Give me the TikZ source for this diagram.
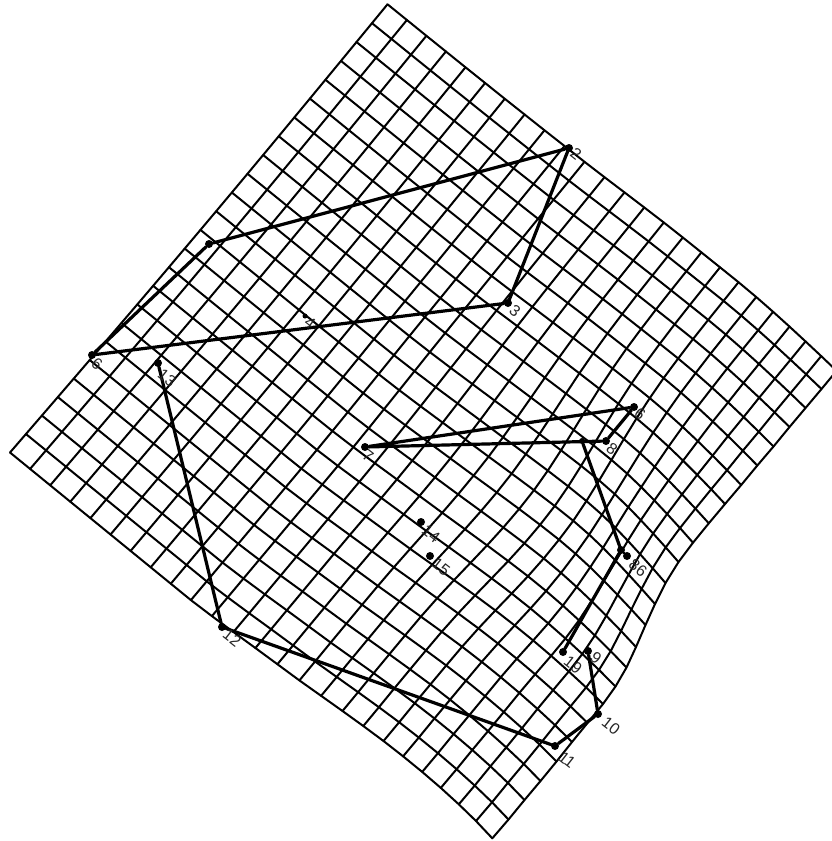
\documentclass[tikz,border=0pt]{standalone}
\usepackage{fontspec}
\setmainfont{Liberation Sans}
\def\Tx{{387.5,406.9,426.4,445.9,465.5,485.1,504.8,524.6,544.5,564.5,584.5,604.5,624.5,644.3,663.8,682.8,701.4,720,738.5,756.2,773.1,789.5,805.5,821.2,836.6}}
\def\Ty{{4.3,20,35.8,51.5,67.3,83,98.8,114.5,130.3,146,161.8,177.2,192.4,207.5,222.5,237.5,252.4,267.3,282.2,297,311.8,326.6,341.4,356.1,370.8}}
\def\Bx{{10,30.1,50.2,70.3,90.4,110.5,130.6,150.7,170.8,190.9,211.9,233.4,255.4,277.4,299.4,321.1,342.5,363.3,383.5,403.1,422.2,440.8,458.8,476,492.3}}
\def\By{{452.5,468.9,485.3,501.7,518.1,534.5,550.9,567.3,583.7,600.1,616.1,632,648,664.2,680.4,695.8,711,726,741,756.3,771.9,787.9,804.3,821,838.3}}
\def\Rx{{836.6,821.5,805.5,789.5,773.5,757.3,741.2,725,708.8,693,678.5,665.5,655,645.5,636,626.5,615.5,603,587.5,572,556.5,540.5,524.5,508.5,492.3}}
\def\Ry{{370.8,389,408,427,446.5,465.5,485,504,523.3,542.7,562,583,604,625,647,667.5,686.5,704,723,742,761.5,781,800,819.5,838.3}}
\tikzset{
  gridline/.style={line width=2pt,line join=round,line cap=round,black},
  outline/.style={line width=3.2pt,line join=round,line cap=round,black},
  lm/.style={circle,fill=black,inner sep=0pt,minimum size=8pt},
  tag/.style={font=\fontsize{16}{16}\selectfont,rotate=-38,inner sep=0pt,text=black!85}
}
\begin{document}
\begin{tikzpicture}[x=1pt,y=-1pt]
\useasboundingbox (0,0) rectangle (832,841);
\clip (0,0) rectangle (832,841);
\foreach \i in {0,...,24}{
 \foreach \j in {0,...,24}{
  \pgfmathsetmacro\u{\i/24}
  \pgfmathsetmacro\v{\j/24}
  \pgfmathsetmacro\w{\u*\u*\u}
  \pgfmathsetmacro\gs{(24-\i)/5*exp(-((\i-19)*(\i-19)+(\j-11.5)*(\j-11.5))/(2*3.2*3.2))}
  \pgfmathsetmacro\bow{sin(7.5*\j)*(1-\u)}
  \pgfmathsetmacro\px{(1-\v)*\Tx[\i]+\v*\Bx[\i]+\w*(\Rx[\j]-(1-\v)*836.6-\v*492.3)+1.7*\bow+14*\gs}
  \pgfmathsetmacro\py{(1-\v)*\Ty[\i]+\v*\By[\i]+\w*(\Ry[\j]-(1-\v)*370.8-\v*838.3)+1.5*\bow+8*\gs}
  \coordinate (g-\i-\j) at (\px,\py);
 }
}
\foreach \j in {0,...,24}{
  \draw[gridline] (g-0-\j) \foreach \i in {1,...,24}{ -- (g-\i-\j)};
  \draw[gridline] (g-\j-0) \foreach \i in {1,...,24}{ -- (g-\j-\i)};
}
\node[lm] (n1) at (209,244) {};
\node[lm] (n2) at (569,148) {};
\node[lm] (n3) at (508,303) {};
\node[lm,minimum size=5pt] (n4) at (305,316) {};
\node[lm] (n5) at (92,355) {};
\node[lm] (n6) at (634,407) {};
\node[lm] (n7) at (365,447) {};
\node[lm] (n8) at (606,441) {};
\node[lm,minimum size=6pt] (n17) at (582,441) {};
\node[lm] (n16a) at (621,550) {};
\node[lm] (n16) at (627,556) {};
\node[lm] (n18) at (563,652) {};
\node[lm] (n9) at (588,651) {};
\node[lm] (n10) at (598,714) {};
\node[lm] (n11) at (555,746) {};
\node[lm] (n12) at (222,627) {};
\node[lm] (n13) at (158,363) {};
\node[lm] (n14) at (421,522) {};
\node[lm] (n15) at (430,556) {};
\draw[outline] (n1)--(n2)--(n3)--(n5);
\draw[outline] (n5)--(n1);
\draw[outline] (n6)--(n7)--(n8)--(n6);
\draw[outline] (n17)--(n16a)--(n16);
\draw[outline] (n16a)--(n18);
\draw[outline] (n9)--(n10)--(n11)--(n12)--(n13);
\node[tag] (t2) at (576,154) {2};
\node[tag] (t3) at (515,311) {3};
\node[tag] (t4) at (310,323) {4};
\node[tag] (t5) at (97,364) {6};
\node[tag] (t6) at (640,414) {6};
\node[tag] (t7) at (368,456) {7};
\node[tag] (t8) at (612,449) {8};
\node[tag] (t16) at (638,568) {86};
\node[tag] (t18) at (573,665) {19};
\node[tag] (t9) at (596,658) {9};
\node[tag] (t10) at (611,726) {10};
\node[tag] (t11) at (567,760) {11};
\node[tag] (t12) at (232,638) {12};
\node[tag] (t13) at (167,378) {13};
\node[tag] (t14) at (431,534) {14};
\node[tag] (t15) at (441,567) {15};
\end{tikzpicture}
\end{document}
